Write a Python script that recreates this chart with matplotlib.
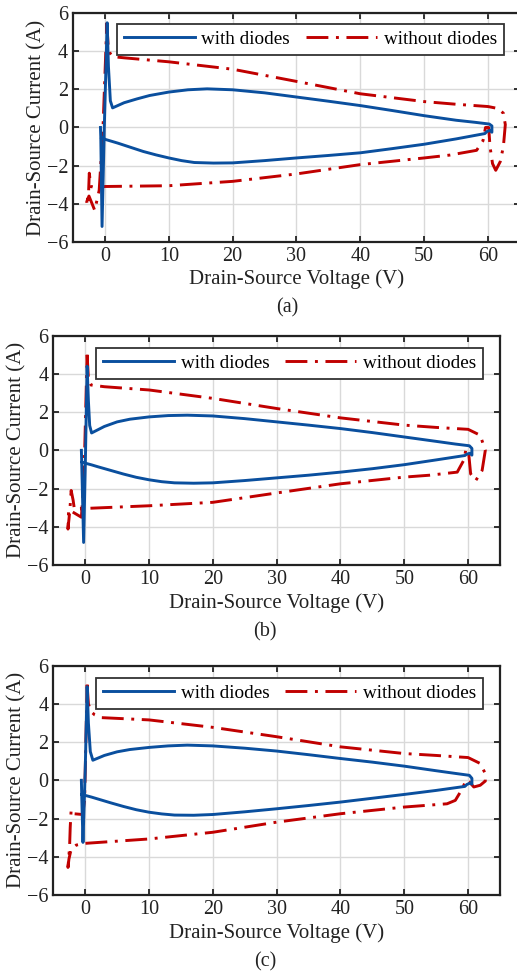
import numpy as np
import matplotlib
matplotlib.use('Agg')
import matplotlib.pyplot as plt

plt.rcParams['font.family'] = ['Liberation Serif', 'DejaVu Serif']
plt.rcParams['mathtext.fontset'] = 'stix'

# (a) drain-source trajectories, voltage in V / current in A
va_diode = [-0.7, -0.65, -0.45, -0.1, 0.35, 0.55, 0.85, 1.2, 3, 5, 7, 10, 13, 16, 20, 25, 30, 35, 40, 45, 50, 55, 58, 60.2, 60.6, 60.6, 60.3, 59.8, 59.5, 55, 50, 45, 40, 35, 30, 25, 20, 17, 14, 12, 10, 8, 6, 4, 2, 1, 0, -0.5]
ia_diode = [0.0, -0.5, -5.2, 0.0, 5.5, 3.2, 1.4, 1.03, 1.3, 1.5, 1.68, 1.86, 1.98, 2.03, 1.98, 1.82, 1.6, 1.38, 1.15, 0.89, 0.62, 0.38, 0.27, 0.18, 0.08, -0.25, -0.15, -0.22, -0.32, -0.6, -0.88, -1.11, -1.33, -1.47, -1.6, -1.74, -1.86, -1.87, -1.84, -1.74, -1.6, -1.44, -1.26, -1.04, -0.82, -0.72, -0.62, -0.53]
va_nodiode = [0.3, 0.5, 0.8, 1.2, 3, 10, 20, 30, 40, 50, 55, 60, 61.5, 62.4, 62.7, 62.4, 61.9, 61.2, 60.7, 60.3, 60.1, 59.6, 59.2, 58.2, 54, 50, 40, 30, 20, 10, 0, -1.5, -2.2, -2.45, -2.55, -2.75, -2.85, -2.5, -1.6, -0.9, -0.3, 0.3]
ia_nodiode = [5.5, 4.3, 3.9, 3.72, 3.66, 3.45, 3.06, 2.42, 1.77, 1.36, 1.22, 1.1, 1.0, 0.75, 0.15, -1.0, -1.8, -2.25, -1.9, -1.0, 0.0, 0.0, -0.7, -1.2, -1.45, -1.6, -1.95, -2.44, -2.83, -3.06, -3.1, -3.17, -3.1, -2.4, -3.3, -4.1, -3.9, -3.6, -4.35, -3.3, 0.0, 5.5]

# (b)
vb_diode = [-0.6, -0.55, -0.25, 0.0, 0.3, 0.5, 0.7, 1.0, 3, 5, 7, 10, 13, 16, 20, 25, 30, 35, 40, 45, 50, 55, 58, 60.2, 60.6, 60.6, 60.3, 59.8, 59.5, 55, 50, 45, 40, 35, 30, 25, 20, 17, 14, 12, 10, 8, 6, 4, 2, 1, 0, -0.5]
ib_diode = [0.0, -0.6, -4.82, -1.0, 4.4, 2.6, 1.3, 0.91, 1.25, 1.49, 1.63, 1.75, 1.82, 1.84, 1.8, 1.66, 1.49, 1.32, 1.14, 0.93, 0.7, 0.47, 0.33, 0.24, 0.1, -0.25, -0.15, -0.2, -0.27, -0.5, -0.75, -0.96, -1.14, -1.3, -1.44, -1.58, -1.7, -1.72, -1.7, -1.64, -1.54, -1.41, -1.24, -1.05, -0.86, -0.76, -0.67, -0.61]
vb_nodiode = [0.3, 0.5, 0.9, 3, 10, 20, 30, 40, 50, 55, 60, 61.9, 62.7, 62.2, 61.2, 60.4, 60.1, 59.7, 59.3, 58.3, 54, 50, 40, 30, 20, 10, 0, -1.7, -1.9, -2.2, -2.4, -2.7, -2.6, -1.6, -0.6, -0.2, 0.3]
ib_nodiode = [5.0, 3.77, 3.42, 3.33, 3.16, 2.72, 2.19, 1.7, 1.32, 1.2, 1.1, 0.79, 0.0, -1.05, -1.58, -1.23, -0.18, 0.09, -0.53, -1.14, -1.3, -1.4, -1.75, -2.23, -2.72, -2.9, -3.04, -3.07, -2.6, -2.1, -3.1, -4.12, -3.1, -3.3, -3.5, -1.5, 5.0]

# (c)
vc_diode = [-0.6, -0.55, -0.35, 0.0, 0.3, 0.5, 0.8, 1.2, 3, 5, 7, 10, 13, 16, 20, 25, 30, 35, 40, 45, 50, 55, 58, 60.2, 60.6, 60.6, 60.3, 59.8, 59.5, 55, 50, 45, 40, 35, 30, 25, 20, 17, 14, 12, 10, 8, 6, 4, 2, 1, 0, -0.5]
ic_diode = [0.0, -0.75, -3.25, 0.5, 4.9, 3.0, 1.5, 1.05, 1.3, 1.49, 1.61, 1.72, 1.8, 1.84, 1.8, 1.68, 1.53, 1.34, 1.14, 0.95, 0.74, 0.5, 0.36, 0.26, 0.1, -0.2, -0.15, -0.22, -0.32, -0.53, -0.74, -0.94, -1.14, -1.32, -1.49, -1.65, -1.79, -1.83, -1.82, -1.76, -1.67, -1.54, -1.37, -1.18, -0.98, -0.88, -0.79, -0.74]
vc_nodiode = [0.3, 0.5, 0.9, 1.5, 2.5, 10, 20, 30, 40, 50, 55, 60, 61.9, 62.7, 62.7, 61.9, 60.9, 60.2, 59.7, 59.1, 58, 56.7, 50, 40, 30, 20, 10, 0, -1.4, -2.2, -2.55, -2.7, -2.45, -2.35, -2.2, -1.8, -0.4, -0.1, 0.3]
ic_nodiode = [5.0, 4.0, 3.6, 3.42, 3.28, 3.16, 2.77, 2.28, 1.75, 1.4, 1.3, 1.19, 0.88, 0.35, -0.04, -0.26, -0.35, -0.09, 0.03, -0.44, -1.05, -1.23, -1.4, -1.75, -2.19, -2.72, -3.07, -3.3, -3.39, -3.6, -4.12, -4.56, -3.5, -2.46, -1.54, -1.75, -1.79, -1.05, 5.0]

panels = [
    ('(a)', va_diode, ia_diode, va_nodiode, ia_nodiode),
    ('(b)', vb_diode, ib_diode, vb_nodiode, ib_nodiode),
    ('(c)', vc_diode, ic_diode, vc_nodiode, ic_nodiode),
]

# axes rectangles [left, bottom, width, height] and caption / legend anchors
rects = [[0.1412, 0.7521, 0.8646, 0.2343],
         [0.1031, 0.4205, 0.8640, 0.2352],
         [0.1031, 0.0821, 0.8640, 0.2352]]
caption_xy = [(0.555, 0.684), (0.513, 0.352), (0.513, 0.0133)]
legend_anchor = [(0.964, 0.953), (0.962, 0.946), (0.962, 0.946)]

blue = '#0a4f9e'
red = '#c00000'
dark = '#222222'

fig = plt.figure(figsize=(5.17, 9.75), dpi=100)

for k, (tag, v1, i1, v2, i2) in enumerate(panels):
    ax = fig.add_axes(rects[k])
    ax.plot(v1, i1, color=blue, lw=2.1, label='with diodes', zorder=3)
    ax.plot(v2, i2, color=red, lw=2.1, dashes=(7.5, 2.6, 1.0, 2.6),
            label='without diodes', zorder=2)

    ax.set_xlim(-5, 65)
    ax.set_ylim(-6, 6)
    ax.set_xticks(np.arange(0, 61, 10))
    ax.set_yticks(np.arange(-6, 7, 2))
    ax.grid(True, color='#d9d9d9', lw=1.0)
    ax.set_axisbelow(True)
    ax.tick_params(direction='in', top=True, right=True, length=4,
                   width=1.3, labelsize=14.5, colors=dark, pad=3.5)
    for sp in ax.spines.values():
        sp.set_linewidth(1.6)
        sp.set_color(dark)

    ax.set_xlabel('Drain-Source Voltage (V)', fontsize=15, color=dark, labelpad=3)
    ax.set_ylabel('Drain-Source Current (A)', fontsize=15, color=dark, labelpad=0)

    leg = ax.legend(loc='upper right', bbox_to_anchor=legend_anchor[k], ncol=2,
                    fontsize=13.8, handlelength=3.7, handletextpad=0.36,
                    columnspacing=0.83, borderpad=0.35, borderaxespad=0.0,
                    fancybox=False, framealpha=1.0, edgecolor='#333333')
    leg.get_frame().set_linewidth(1.3)

    fig.text(caption_xy[k][0], caption_xy[k][1], tag, fontsize=14.5,
             ha='center', va='center', color=dark)

fig.savefig('out.png', dpi=100)
